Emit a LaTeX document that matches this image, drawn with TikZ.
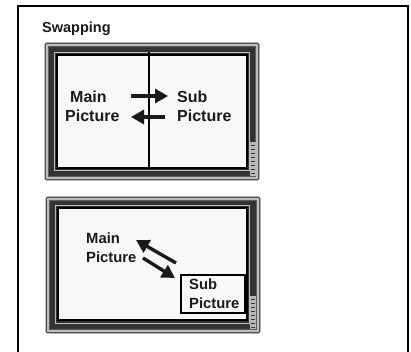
\documentclass[tikz,border=0pt]{standalone}
\usepackage{fontspec}
\setmainfont{Liberation Sans}
\usetikzlibrary{arrows.meta}
\definecolor{ink}{HTML}{1A1A1A}
\definecolor{rim}{HTML}{5E5E5E}
\definecolor{rimlight}{HTML}{BDBDBD}
\definecolor{band}{HTML}{333333}
\definecolor{screen}{HTML}{F8F8FA}
\tikzset{
  lbl/.style={font=\fontsize{16}{16}\selectfont\bfseries, text=ink, inner sep=0pt, anchor=base west},
  lblsmall/.style={font=\fontsize{14.8}{14.8}\selectfont\bfseries, text=ink, inner sep=0pt, anchor=base west},
  ttl/.style={font=\fontsize{14.5}{14.5}\selectfont\bfseries, text=ink, inner sep=0pt, anchor=base west},
  swaparrow/.style={draw=ink, line width=3.4pt, -{Triangle[length=13pt,width=14pt]}},
  tvouter/.style={draw=rim!70!black, fill=rim, line width=0.8pt, rounded corners=1.5pt},
  tvrim/.style={draw=rimlight, line width=1.2pt},
  tvband/.style={fill=band},
  tvscreen/.style={draw=black, fill=screen, line width=2pt},
}
\begin{document}
\begin{tikzpicture}[x=1pt,y=-1pt]
\useasboundingbox (0,0) rectangle (411,352);
% outer frame (open at the bottom)
\draw[line width=2.2pt, black] (18,360) -- (18,6) -- (408,6) -- (408,360);
\node[ttl] (title) at (42,33) {Swapping};

% ---------- TV 1 ----------
\draw[tvouter] (45,43) rectangle (259,180);
\draw[tvrim] (47,45) rectangle (257,178);
\fill[tvband] (49,47) rectangle (255,176);
\draw[rimlight, line width=0.8pt] (54.5,52.5) rectangle (249.5,170.5);
\draw[tvscreen] (57,55) rectangle (247,168);
\fill[gray!55] (250,142) rectangle (256,176);
\foreach \yy in {145,149,...,173} \draw[band, line width=0.8pt] (251,\yy) -- (255,\yy);
\coordinate (divtop) at (149,52);
\coordinate (divbot) at (149,168);
\draw[black, line width=2.2pt] (divtop) -- (divbot);
\node[lbl] (mainA) at (70,103) {Main};
\node[lbl] (picA) at (65,122) {Picture};
\node[lbl] (subA) at (177,103) {Sub};
\node[lbl] (picB) at (177,122) {Picture};
\coordinate (a1s) at (131,96);
\coordinate (a1e) at (168,96);
\coordinate (a2s) at (165,117);
\coordinate (a2e) at (131,117);
\draw[swaparrow] (a1s) -- (a1e);
\draw[swaparrow] (a2s) -- (a2e);

% ---------- TV 2 ----------
\draw[tvouter] (46,197) rectangle (260,333);
\draw[tvrim] (48,199) rectangle (258,331);
\fill[tvband] (50,201) rectangle (256,329);
\draw[rimlight, line width=0.8pt] (55.5,205.5) rectangle (249.5,323.5);
\draw[tvscreen] (58,208) rectangle (247,320);
\fill[gray!55] (250,296) rectangle (256,329);
\foreach \yy in {299,303,...,327} \draw[band, line width=0.8pt] (251,\yy) -- (255,\yy);
\node[lblsmall] (mainB) at (86,243) {Main};
\node[lblsmall] (picC) at (86,262) {Picture};
\node[draw=black, line width=2pt, fill=screen, minimum width=64pt, minimum height=38pt, inner sep=0pt] (subbox) at (213,294) {};
\node[lblsmall] (subB) at (189,289) {Sub};
\node[lblsmall] (picD) at (189,308) {Picture};
\coordinate (b1s) at (176,263);
\coordinate (b1e) at (136,240);
\coordinate (b2s) at (143,258);
\coordinate (b2e) at (175,278);
\draw[swaparrow] (b1s) -- (b1e);
\draw[swaparrow] (b2s) -- (b2e);
\end{tikzpicture}
\end{document}
